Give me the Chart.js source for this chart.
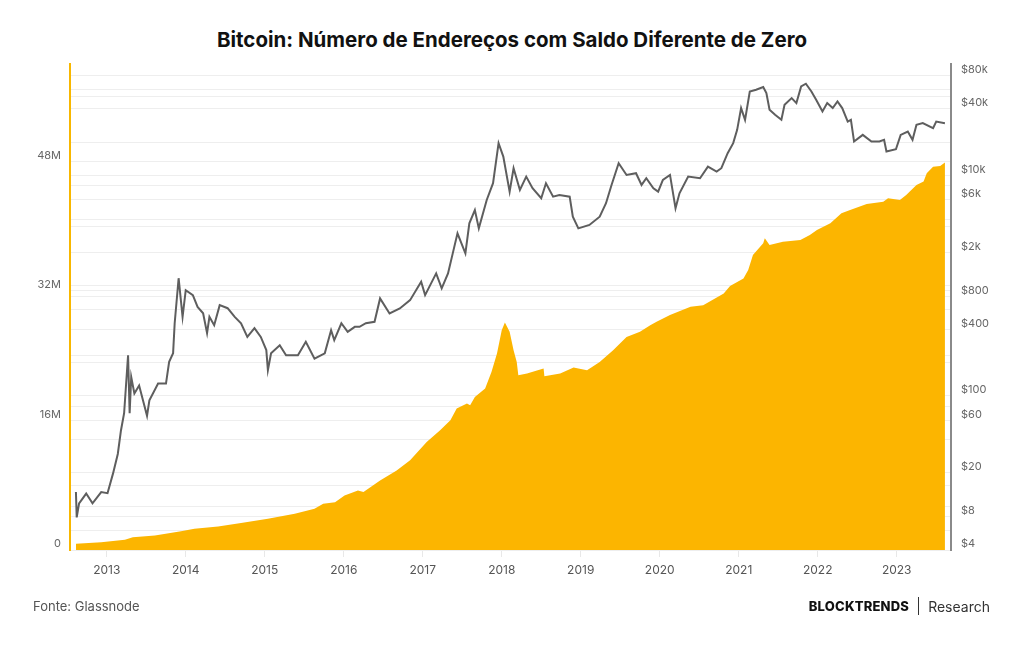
<!DOCTYPE html>
<html lang="pt">
<head>
    <meta charset="UTF-8">
    <title>Bitcoin: Número de Endereços com Saldo Diferente de Zero</title>
    <script src="https://cdn.jsdelivr.net/npm/chart.js"></script>
    <style>
        body { margin: 0; background: #fff; font-family: Inter, "Noto Sans", sans-serif; }
        .page { position: relative; width: 1024px; height: 645px; overflow: hidden; }
        .title {
            position: absolute; top: 27px; left: 0; width: 1024px;
            text-align: center; font-size: 20.5px; font-weight: 700; color: #111;
        }
        #chartBox { position: absolute; left: 0; top: 0; }
        .source { position: absolute; left: 33px; top: 598px; font-size: 13px; color: #555; }
        .brand { position: absolute; right: 34px; top: 597px; font-size: 13px; display: flex; align-items: center; }
        .brand b { font-weight: 800; color: #111; letter-spacing: 0.2px; }
        .brand .sep { width: 1px; height: 18px; background: #333; margin: 0 9px; }
        .brand span { color: #333; font-size: 14px; }
    </style>
</head>
<body>
<div class="page">
    <div class="title">Bitcoin: Número de Endereços com Saldo Diferente de Zero</div>
    <canvas id="chartBox" width="1024" height="645"></canvas>
    <div class="source">Fonte: Glassnode</div>
    <div class="brand"><b>BLOCKTRENDS</b><div class="sep"></div><span>Research</span></div>
</div>

<script>
    // BTC price (USD), sampled off the chart
    const priceYears = [
        2012.61, 2012.62, 2012.65, 2012.74, 2012.82, 2012.93, 2013.01, 2013.08, 2013.14, 2013.18,
        2013.22, 2013.27, 2013.29, 2013.31, 2013.35, 2013.41, 2013.51, 2013.54, 2013.65, 2013.75,
        2013.79, 2013.84, 2013.86, 2013.91, 2013.96, 2014.00, 2014.09, 2014.15, 2014.22, 2014.27,
        2014.30, 2014.36, 2014.43, 2014.53, 2014.62, 2014.70, 2014.78, 2014.87, 2014.95, 2015.02,
        2015.04, 2015.08, 2015.19, 2015.27, 2015.42, 2015.52, 2015.63, 2015.76, 2015.84, 2015.88,
        2015.97, 2016.05, 2016.14, 2016.20, 2016.28, 2016.39, 2016.46, 2016.58, 2016.71, 2016.84,
        2016.98, 2017.03, 2017.17, 2017.24, 2017.32, 2017.38, 2017.44, 2017.54, 2017.59, 2017.66,
        2017.71, 2017.81, 2017.89, 2017.96, 2018.02, 2018.10, 2018.15, 2018.23, 2018.31, 2018.39,
        2018.50, 2018.56, 2018.65, 2018.73, 2018.86, 2018.90, 2018.97, 2019.11, 2019.24, 2019.32,
        2019.39, 2019.48, 2019.58, 2019.70, 2019.77, 2019.83, 2019.92, 2019.98, 2020.04, 2020.13,
        2020.20, 2020.25, 2020.36, 2020.51, 2020.61, 2020.72, 2020.78, 2020.86, 2020.93, 2020.98,
        2021.03, 2021.08, 2021.14, 2021.22, 2021.31, 2021.35, 2021.39, 2021.46, 2021.54, 2021.58,
        2021.67, 2021.73, 2021.79, 2021.85, 2021.92, 2021.98, 2022.06, 2022.12, 2022.19, 2022.25,
        2022.31, 2022.38, 2022.42, 2022.46, 2022.57, 2022.68, 2022.78, 2022.84, 2022.87, 2022.99,
        2023.05, 2023.14, 2023.20, 2023.25, 2023.33, 2023.46, 2023.50, 2023.61
    ];
    const priceUsd = [
        13.4, 7.9, 10.6, 13.0, 10.6, 13.4, 13.1, 19.8, 29.7, 48.5,
        69.5, 233, 69.5, 148, 105, 124, 66, 91, 129, 129,
        203, 243, 455, 1165, 520, 907, 818, 640, 561, 370,
        520, 437, 664, 623, 520, 455, 342, 411, 342, 260,
        171, 243, 287, 233, 233, 309, 217, 243, 393, 320,
        455, 380, 422, 422, 455, 469, 764, 558, 619, 737,
        1081, 818, 1288, 942, 1288, 1956, 2973, 1956, 3665, 4840,
        3299, 5970, 8464, 19540, 14770, 7100, 11580, 7355, 9714, 7619,
        6185, 8464, 6393, 6625, 6393, 4207, 3299, 3541, 4207, 5572,
        8168, 12860, 10060, 10430, 8168, 9395, 7619, 7100, 9069, 10060,
        5019, 6862, 9714, 9395, 11980, 10780, 11580, 15850, 19540, 25790,
        40640, 31800, 57470, 59570, 63010, 55620, 39210, 35290, 31800, 43530,
        50110, 45090, 63880, 67570, 57470, 48350, 37850, 45090, 40640, 46660,
        40640, 30700, 31800, 20210, 23230, 20210, 20210, 20930, 16390, 17220,
        23230, 24890, 20930, 28650, 29670, 26740, 30700, 29670
    ];

    // non-zero balance addresses (millions)
    const addrYears = [
        2012.61, 2012.93, 2013.23, 2013.33, 2013.61, 2013.94, 2014.11, 2014.41, 2014.70, 2015.04,
        2015.38, 2015.63, 2015.74, 2015.89, 2016.01, 2016.18, 2016.25, 2016.46, 2016.67, 2016.84,
        2017.05, 2017.22, 2017.35, 2017.43, 2017.56, 2017.60, 2017.66, 2017.79, 2017.87, 2017.94,
        2018.00, 2018.04, 2018.10, 2018.15, 2018.19, 2018.21, 2018.32, 2018.53, 2018.54, 2018.74,
        2018.91, 2018.97, 2019.08, 2019.24, 2019.41, 2019.58, 2019.75, 2019.88, 2019.96, 2020.13,
        2020.39, 2020.55, 2020.81, 2020.89, 2021.06, 2021.12, 2021.18, 2021.31, 2021.33, 2021.39,
        2021.56, 2021.78, 2021.90, 2021.99, 2022.16, 2022.30, 2022.41, 2022.62, 2022.83, 2022.89,
        2023.04, 2023.12, 2023.25, 2023.34, 2023.38, 2023.46, 2023.55, 2023.61
    ];
    const addrMillions = [
        0.77, 0.96, 1.26, 1.58, 1.79, 2.33, 2.62, 2.91, 3.32, 3.86,
        4.48, 5.09, 5.71, 5.91, 6.74, 7.36, 7.15, 8.59, 9.83, 11.07,
        13.33, 14.78, 16.01, 17.46, 18.08, 17.87, 18.89, 19.93, 21.98, 24.26,
        27.14, 28.09, 26.93, 24.67, 23.22, 21.58, 21.79, 22.40, 21.45, 21.79,
        22.53, 22.40, 22.19, 23.22, 24.67, 26.31, 26.93, 27.76, 28.17, 29.00,
        30.02, 30.23, 31.68, 32.58, 33.53, 34.56, 36.41, 37.86, 38.48, 37.65,
        38.06, 38.27, 38.89, 39.51, 40.33, 41.57, 41.98, 42.72, 43.00, 43.43,
        43.22, 43.83, 45.07, 45.48, 46.52, 47.33, 47.42, 47.83
    ];

    const yearTicks = [2013, 2014, 2015, 2016, 2017, 2018, 2019, 2020, 2021, 2022, 2023];
    const addrTicks = [0, 8e6, 16e6, 24e6, 32e6, 40e6, 48e6, 56e6];
    const addrLabels = { 0: '0', 16000000: '16M', 32000000: '32M', 48000000: '48M' };
    const priceTicks = [4, 6, 8, 10, 20, 40, 60, 80, 100, 200, 400, 600, 800, 1000,
        2000, 4000, 6000, 8000, 10000, 20000, 40000, 60000, 80000];
    const priceLabels = { 4: '$4', 8: '$8', 20: '$20', 60: '$60', 100: '$100', 400: '$400',
        800: '$800', 2000: '$2k', 6000: '$6k', 10000: '$10k', 40000: '$40k', 80000: '$80k' };

    const pricePoints = priceYears.map((x, i) => ({ x: x, y: priceUsd[i] }));
    const addrPoints = addrYears.map((x, i) => ({ x: x, y: addrMillions[i] * 1e6 }));

    const tickFont = { family: 'Inter, "Noto Sans", sans-serif', size: 11 };

    new Chart(document.getElementById('chartBox'), {
        type: 'line',
        data: {
            datasets: [
                {
                    label: 'Preço BTC',
                    data: pricePoints,
                    yAxisID: 'price',
                    borderColor: '#5e5e5e',
                    borderWidth: 2,
                    pointRadius: 0,
                    tension: 0,
                    fill: false,
                    order: 0
                },
                {
                    label: 'Endereços com saldo',
                    data: addrPoints,
                    yAxisID: 'addr',
                    borderWidth: 0,
                    borderColor: '#fcb500',
                    backgroundColor: '#fcb500',
                    pointRadius: 0,
                    tension: 0,
                    fill: 'start',
                    order: 1
                }
            ]
        },
        options: {
            responsive: false,
            animation: false,
            layout: { padding: { top: 64, bottom: 65, left: 0, right: 0 } },
            plugins: { legend: { display: false }, tooltip: { enabled: false } },
            scales: {
                x: {
                    type: 'linear',
                    min: 2012.535,
                    max: 2023.687,
                    afterBuildTicks: s => { s.ticks = yearTicks.map(v => ({ value: v })); },
                    afterFit: s => { s.height = 30; },
                    ticks: {
                        autoSkip: false, maxRotation: 0, padding: 6,
                        color: '#555', font: { family: tickFont.family, size: 12 },
                        callback: v => String(v)
                    },
                    grid: { drawOnChartArea: false, tickLength: 7, color: '#e8e8e8' },
                    border: { display: false }
                },
                addr: {
                    type: 'linear',
                    position: 'left',
                    min: 0,
                    max: 60e6,
                    afterBuildTicks: s => { s.ticks = addrTicks.map(v => ({ value: v })); },
                    afterFit: s => { s.width = 70; },
                    ticks: {
                        autoSkip: false, padding: 9, labelOffset: -6,
                        color: '#666', font: tickFont,
                        callback: v => addrLabels[v] !== undefined ? addrLabels[v] : ''
                    },
                    grid: { color: '#eeeeee', drawTicks: false },
                    border: { color: '#f8b700', width: 2 }
                },
                price: {
                    type: 'logarithmic',
                    position: 'right',
                    min: 4,
                    max: 102000,
                    afterBuildTicks: s => { s.ticks = priceTicks.map(v => ({ value: v })); },
                    afterFit: s => { s.width = 73; },
                    ticks: {
                        autoSkip: false, padding: 10, labelOffset: -6,
                        color: '#666', font: tickFont,
                        callback: v => priceLabels[v] !== undefined ? priceLabels[v] : ''
                    },
                    grid: { color: '#eeeeee', drawTicks: false },
                    border: { color: '#8a8a8a', width: 2 }
                }
            }
        }
    });
</script>
</body>
</html>
